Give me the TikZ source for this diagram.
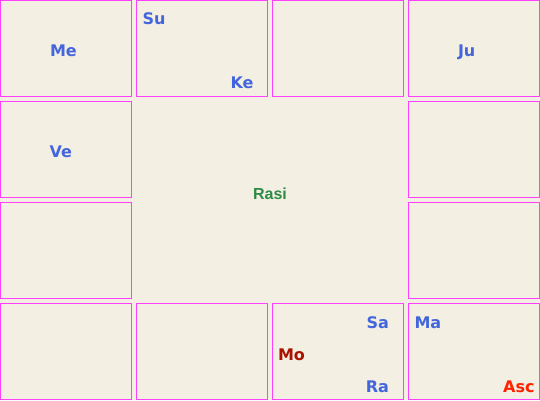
\documentclass[tikz,border=0pt]{standalone}
\usepackage{fontspec}
\setmainfont{DejaVu Sans}
\newfontfamily\rasifont{Liberation Sans}
\definecolor{bgc}{HTML}{F3EFE3}
\definecolor{boxline}{HTML}{FF40FF}
\definecolor{planet}{HTML}{4466DD}
\definecolor{moonc}{HTML}{AA1100}
\definecolor{ascc}{HTML}{FF2200}
\definecolor{rasic}{HTML}{2E8B45}
\tikzset{
  cell/.style={draw=boxline, fill=bgc, line width=1bp},
  pl/.style={inner sep=0pt, outer sep=0pt, text=planet, font=\fontsize{16bp}{16bp}\selectfont\bfseries},
}
\begin{document}
\begin{tikzpicture}[x=1bp, y=-1bp]
\fill[bgc] (0,0) rectangle (540,400);
\useasboundingbox (0,0) rectangle (540,400);
% boxes
\foreach \c/\r in {0/0,1/0,2/0,3/0,0/1,3/1,0/2,3/2,0/3,1/3,2/3,3/3}{
  \draw[cell] ({\c*136+0.5},{\r*101+0.5}) rectangle ({\c*136+131.5},{\r*101+96.5});
}
% planets
\node[pl, anchor=base west] (me) at (50,56) {Me};
\node[pl, anchor=base west] (su) at (142.5,24.5) {Su};
\node[pl, anchor=base east] (ke) at (253.5,88.5) {Ke};
\node[pl, anchor=base west] (ju) at (458,56) {Ju};
\node[pl, anchor=base west] (ve) at (49.7,157) {Ve};
\node[pl, anchor=base east] (sa) at (389,328.3) {Sa};
\node[pl, anchor=base east] (ra) at (389,392.3) {Ra};
\node[pl, anchor=base west, text=moonc] (mo) at (278,360.3) {Mo};
\node[pl, anchor=base west] (ma) at (414.5,328.3) {Ma};
\node[pl, anchor=base east, text=ascc] (asc) at (534.5,392.3) {Asc};
\node[inner sep=0pt, anchor=base, text=rasic, font=\rasifont\fontsize{16bp}{16bp}\selectfont\bfseries] (rasi) at (270,199) {Rasi};
\end{tikzpicture}
\end{document}
